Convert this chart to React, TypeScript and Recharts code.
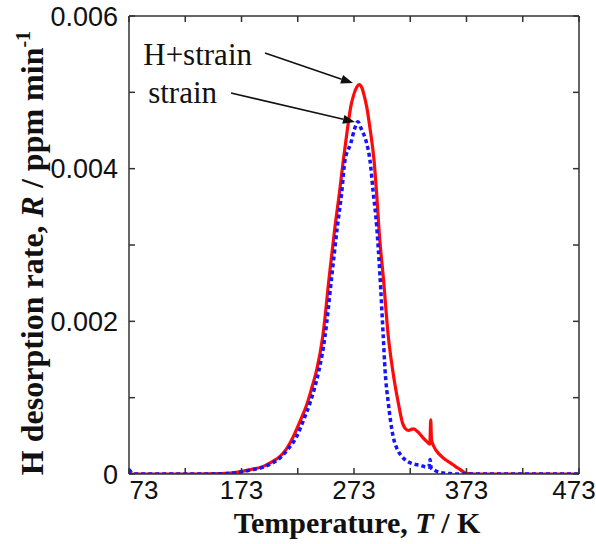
import { LineChart, Line, XAxis, YAxis, ReferenceLine, Label } from "recharts"

// H+strain (red, solid): temperature in K, desorption rate in ppm/min
const redTemp = [
  73, 100, 130, 155, 171.7, 182, 192.4, 200, 207.2, 213, 219, 225, 231.5, 235.5,
  239.8, 245.2, 251, 256.1, 260, 263.5, 267, 270.1, 273, 275.5, 277.6, 280, 282,
  284.3, 287.5, 290.8, 293, 296, 299, 303.5, 307.4, 312.4, 316.3, 319, 321.5, 324,
  326, 329.9, 334, 338, 340.4, 341.2, 341.9, 344, 349.4, 354, 358.3, 363, 367.2,
  371, 374.3, 380, 400, 473,
]
const redRate = [
  0, 0, 0, 0.000005, 0.00003, 0.00006, 0.0001, 0.00016, 0.00023, 0.00033, 0.00049,
  0.00069, 0.00093, 0.00113, 0.00136, 0.0018, 0.002585, 0.00324, 0.00368, 0.00411,
  0.0045, 0.00481, 0.00498, 0.00507, 0.0051, 0.00506, 0.00496, 0.00481, 0.0045,
  0.00411, 0.0037, 0.00305, 0.002585, 0.0018, 0.00136, 0.00093, 0.00066, 0.00059,
  0.00057, 0.000585, 0.00059, 0.00055, 0.00048, 0.00042, 0.00039, 0.00071, 0.00045,
  0.00036, 0.00025, 0.00019, 0.00015, 0.0001, 0.00006, 0.00002, 0.000005, 0, 0, 0,
]

// strain (blue, dotted)
const blueTemp = [
  73, 74.5, 77, 80, 130, 160, 171.7, 182, 192.4, 200, 207.2, 214, 222, 228, 233.9,
  238, 241.9, 247.2, 253.2, 258.2, 262, 265, 270.1, 273.5, 276.5, 279.5, 284.3,
  287.2, 290, 293.2, 296, 299, 300.6, 303.5, 307.8, 311, 315, 320, 326, 331.7, 336,
  339.5, 340.6, 341.6, 344.5, 349.4, 358, 365, 473,
]
const blueRate = [
  0.00006, 0.00003, 0.000005, 0, 0, 0.000005, 0.000026, 0.000055, 0.00009, 0.00014,
  0.00021, 0.00032, 0.00049, 0.0007, 0.00093, 0.00113, 0.00136, 0.0018, 0.002585,
  0.00324, 0.00368, 0.00411, 0.00433, 0.00452, 0.004615, 0.00452, 0.00433, 0.00411,
  0.0037, 0.00324, 0.00262, 0.0018, 0.00136, 0.00093, 0.00049, 0.00034, 0.00024,
  0.00017, 0.00013, 0.000115, 0.000095, 0.00009, 0.00019, 0.00008, 0.00005, 0.00002,
  0.000005, 0, 0,
]

const xTicks = [73, 123, 173, 223, 273, 323, 373, 423, 473]
const xLabels = [73, 173, 273, 373, 473]
const yTicks = [0, 0.001, 0.002, 0.003, 0.004, 0.005, 0.006]
const yLabels = ["0", "", "0.002", "", "0.004", "", "0.006"]

// arrow annotations: [T, R] of tail and head
const notes = [
  { text: "H+strain", from: [193.9, 0.005515], to: [272.1, 0.005122], dx: -13, dy: 12 },
  { text: "strain", from: [163.7, 0.004991], to: [273.9, 0.004611], dx: -14, dy: 10 },
]

const redData = redTemp.map((t, i) => ({ t, r: redRate[i] }))
const blueData = blueTemp.map((t, i) => ({ t, r: blueRate[i] }))

const sans = "'Liberation Sans', Arial, sans-serif"
const serif = "'Liberation Serif', 'Times New Roman', serif"
const axisColor = "#333"

function XTick(props: any) {
  const { x, y, payload } = props
  if (!xLabels.includes(payload.value)) return null
  const nudge = payload.value === 73 ? 15 : payload.value === 473 ? -5 : 0
  return (
    <text x={x + nudge} y={y} dy={18} textAnchor="middle" fontSize={26} fontFamily={sans} fill="#111">
      {payload.value}
    </text>
  )
}

function arrow(text: string, dx: number, dy: number) {
  return (p: any) => {
    const { x1, y1, x2, y2 } = p
    const a = Math.atan2(y2 - y1, x2 - x1)
    const len = 12
    const half = 4.5
    const bx = x2 - len * Math.cos(a)
    const by = y2 - len * Math.sin(a)
    const pts = `${x2},${y2} ${bx - half * Math.sin(a)},${by + half * Math.cos(a)} ${bx + half * Math.sin(a)},${by - half * Math.cos(a)}`
    return (
      <g>
        <line x1={x1} y1={y1} x2={bx} y2={by} stroke="#111" strokeWidth={1.6} />
        <polygon points={pts} fill="#111" />
        <text x={x1 + dx} y={y1 + dy} textAnchor="end" fontSize={31} fontFamily={serif} fill="#111">
          {text}
        </text>
      </g>
    )
  }
}

export default function App() {
  return (
    <div style={{ position: "absolute", left: 0, top: 0 }}>
      <LineChart width={596} height={544} data={redData} margin={{ top: 15, right: 16, left: 0, bottom: 0 }}>
        <XAxis
          dataKey="t"
          type="number"
          domain={[73, 473]}
          ticks={xTicks}
          allowDataOverflow
          height={70}
          tickSize={-6}
          tickMargin={13}
          tick={<XTick />}
          stroke={axisColor}
          strokeWidth={1.5}
        >
          <Label
            content={(p: any) => {
              const vb = p.viewBox
              return (
                <text x={vb.x + vb.width / 2 + 3} y={vb.y + 59} textAnchor="middle" fontSize={30} fontWeight="bold" fontFamily={serif} fill="#111">
                  Temperature, <tspan fontStyle="italic">T</tspan> / K
                </text>
              )
            }}
          />
        </XAxis>
        <XAxis
          xAxisId="top"
          orientation="top"
          dataKey="t"
          type="number"
          domain={[73, 473]}
          ticks={xTicks}
          allowDataOverflow
          height={1}
          tickSize={-6}
          tickFormatter={() => ""}
          stroke={axisColor}
          strokeWidth={1.5}
        />
        <YAxis
          type="number"
          domain={[0, 0.006]}
          ticks={yTicks}
          allowDataOverflow
          width={129}
          tickSize={-6}
          tickMargin={17}
          tickFormatter={(v: number) => yLabels[Math.round(v * 1000)]}
          tick={{ fontSize: 27, fontFamily: sans, fill: "#111" }}
          stroke={axisColor}
          strokeWidth={1.5}
        >
          <Label
            content={(p: any) => {
              const vb = p.viewBox
              const cx = 43
              const cy = vb.y + vb.height / 2 + 8
              return (
                <text x={cx} y={cy} transform={`rotate(-90, ${cx}, ${cy})`} textAnchor="middle" fontSize={32} fontWeight="bold" fontFamily={serif} fill="#111">
                  H desorption rate, <tspan fontStyle="italic">R</tspan> / ppm min
                  <tspan fontSize={20} dy={-13}>-1</tspan>
                </text>
              )
            }}
          />
        </YAxis>
        <YAxis
          yAxisId="right"
          orientation="right"
          type="number"
          domain={[0, 0.006]}
          ticks={yTicks}
          allowDataOverflow
          width={1}
          tickSize={-6}
          tickFormatter={() => ""}
          stroke={axisColor}
          strokeWidth={1.5}
        />
        <Line data={redData} dataKey="r" type="monotone" stroke="#ff0a0a" strokeWidth={3.2} dot={false} isAnimationActive={false} />
        <Line data={blueData} dataKey="r" type="monotone" stroke="#1414ff" strokeWidth={3.5} strokeDasharray="4 3" dot={false} isAnimationActive={false} />
        {notes.map((n) => (
          <ReferenceLine
            key={n.text}
            segment={[
              { x: n.from[0], y: n.from[1] },
              { x: n.to[0], y: n.to[1] },
            ]}
            shape={arrow(n.text, n.dx, n.dy)}
          />
        ))}
      </LineChart>
    </div>
  )
}
